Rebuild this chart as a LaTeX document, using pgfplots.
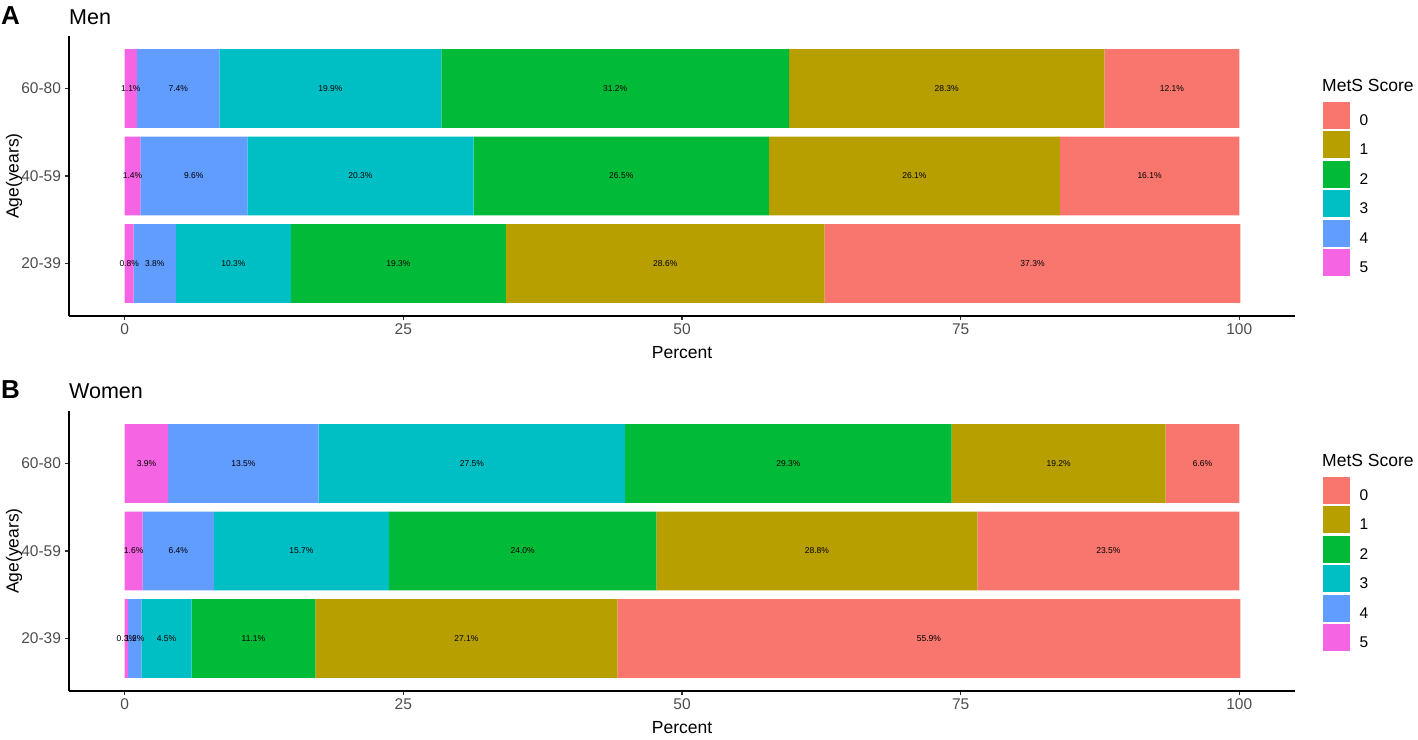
\documentclass[border=0pt]{standalone}
\usepackage{fontspec}
\setmainfont{Liberation Sans}
\usepackage{pgfplots}
\pgfplotsset{compat=1.18}
\usepackage{pgfplotstable}

\definecolor{c0}{HTML}{F8766D}
\definecolor{c1}{HTML}{B79F00}
\definecolor{c2}{HTML}{00BA38}
\definecolor{c3}{HTML}{00BFC4}
\definecolor{c4}{HTML}{619CFF}
\definecolor{c5}{HTML}{F564E3}
\definecolor{grey30}{HTML}{4D4D4D}
\definecolor{grey20}{HTML}{333333}

\newcommand{\ticksfont}{\fontsize{15.5bp}{18bp}\selectfont}
\newcommand{\axtitlefont}{\fontsize{17.5bp}{20bp}\selectfont}
\newcommand{\titlefont}{\fontsize{21.5bp}{24bp}\selectfont}
\newcommand{\tagfont}{\fontsize{26bp}{28bp}\selectfont\bfseries}
\newcommand{\labfont}{\fontsize{8.5bp}{10bp}\selectfont}

% Men
\pgfplotstableread{
y s0 s1 s2 s3 s4 s5
0 37.3 28.6 19.3 10.3 3.8 0.8
1 16.1 26.1 26.5 20.3 9.6 1.4
2 12.1 28.3 31.2 19.9 7.4 1.1
}\men
% label positions (segment midpoints) and texts
\pgfplotstableread{
x y l
0.4 0 0.8
2.7 0 3.8
9.75 0 10.3
24.55 0 19.3
48.5 0 28.6
81.45 0 37.3
0.7 1 1.4
6.2 1 9.6
21.15 1 20.3
44.55 1 26.5
70.85 1 26.1
91.95 1 16.1
0.55 2 1.1
4.8 2 7.4
18.45 2 19.9
44.0 2 31.2
73.75 2 28.3
93.95 2 12.1
}\menlab

% Women
\pgfplotstableread{
y s0 s1 s2 s3 s4 s5
0 55.9 27.1 11.1 4.5 1.2 0.3
1 23.5 28.8 24.0 15.7 6.4 1.6
2 6.6 19.2 29.3 27.5 13.5 3.9
}\women
\pgfplotstableread{
x y l
0.15 0 0.3
0.9 0 1.2
3.75 0 4.5
11.55 0 11.1
30.65 0 27.1
72.15 0 55.9
0.8 1 1.6
4.8 1 6.4
15.85 1 15.7
35.7 1 24.0
62.1 1 28.8
88.25 1 23.5
1.95 2 3.9
10.65 2 13.5
31.15 2 27.5
59.55 2 29.3
83.8 2 19.2
96.7 2 6.6
}\womenlab

\pgfplotsset{
  panel/.style={
    scale only axis, width=1226bp, height=280bp,
    xmin=-5, xmax=105, ymin=-0.6, ymax=2.6,
    anchor=south west,
  },
  bars/.style={
    panel,
    xbar stacked, bar width=0.9,
    axis x line*=bottom, axis y line*=left,
    axis line style={line width=1.6bp, black, -},
    tick align=outside, major tick length=4.5bp,
    tick style={line width=1.1bp, color=grey20},
    xtick={0,25,50,75,100},
    ytick={0,1,2}, yticklabels={20-39,40-59,60-80},
    ticklabel style={font=\ticksfont, text=grey30},
    /pgf/number format/assume math mode=true,
    xlabel={Percent}, ylabel={Age(years)},
    label style={font=\axtitlefont},
    xlabel style={at={(axis description cs:0.5,-0.1511)}, anchor=base},
    ylabel style={at={(axis description cs:-0.04486,0.5)}, anchor=center},
    reverse legend,
    legend cell align=left,
    legend image code/.code={\fill[##1] (0bp,-8bp) rectangle (27bp,19bp);},
    legend style={at={(1.0226,0.7654)}, anchor=north west, draw=none, fill=none,
      inner sep=0pt, outer sep=0pt, row sep=2.5bp, font=\ticksfont,
      nodes={inner sep=0pt},
      /tikz/every odd column/.append style={column sep=10bp}},
  },
  labs/.style={
    panel, hide axis,
  },
}

\begin{document}
\begin{tikzpicture}[x=1bp,y=1bp]
\path[use as bounding box] (0,0) rectangle (1418,739);

% ---------- Men ----------
\begin{axis}[bars, at={(69bp,423bp)}]
\addplot[fill=c5, draw=none] table[x=s5, y=y] {\men}; \addlegendentry{5}
\addplot[fill=c4, draw=none] table[x=s4, y=y] {\men}; \addlegendentry{4}
\addplot[fill=c3, draw=none] table[x=s3, y=y] {\men}; \addlegendentry{3}
\addplot[fill=c2, draw=none] table[x=s2, y=y] {\men}; \addlegendentry{2}
\addplot[fill=c1, draw=none] table[x=s1, y=y] {\men}; \addlegendentry{1}
\addplot[fill=c0, draw=none] table[x=s0, y=y] {\men}; \addlegendentry{0}
\end{axis}
\begin{axis}[labs, at={(69bp,423bp)}]
\addplot[draw=none, mark=none, nodes near coords={\pgfplotspointmeta\%},
  point meta=explicit symbolic,
  every node near coord/.append style={anchor=center, font=\labfont, text=black, inner sep=0pt}]
  table[x=x, y=y, meta=l] {\menlab};
\end{axis}
\node[anchor=base west, inner sep=0pt, font=\tagfont] at (1,714) {A};
\node[anchor=base west, inner sep=0pt, font=\titlefont] at (69,714) {Men};
\node[anchor=base west, inner sep=0pt, font=\axtitlefont] at (1322,647.7) {MetS Score};

% ---------- Women ----------
\begin{axis}[bars, at={(69bp,48bp)}]
\addplot[fill=c5, draw=none] table[x=s5, y=y] {\women}; \addlegendentry{5}
\addplot[fill=c4, draw=none] table[x=s4, y=y] {\women}; \addlegendentry{4}
\addplot[fill=c3, draw=none] table[x=s3, y=y] {\women}; \addlegendentry{3}
\addplot[fill=c2, draw=none] table[x=s2, y=y] {\women}; \addlegendentry{2}
\addplot[fill=c1, draw=none] table[x=s1, y=y] {\women}; \addlegendentry{1}
\addplot[fill=c0, draw=none] table[x=s0, y=y] {\women}; \addlegendentry{0}
\end{axis}
\begin{axis}[labs, at={(69bp,48bp)}]
\addplot[draw=none, mark=none, nodes near coords={\pgfplotspointmeta\%},
  point meta=explicit symbolic,
  every node near coord/.append style={anchor=center, font=\labfont, text=black, inner sep=0pt}]
  table[x=x, y=y, meta=l] {\womenlab};
\end{axis}
\node[anchor=base west, inner sep=0pt, font=\tagfont] at (1,340) {B};
\node[anchor=base west, inner sep=0pt, font=\titlefont] at (69,340) {Women};
\node[anchor=base west, inner sep=0pt, font=\axtitlefont] at (1322,272) {MetS Score};
\end{tikzpicture}
\end{document}
